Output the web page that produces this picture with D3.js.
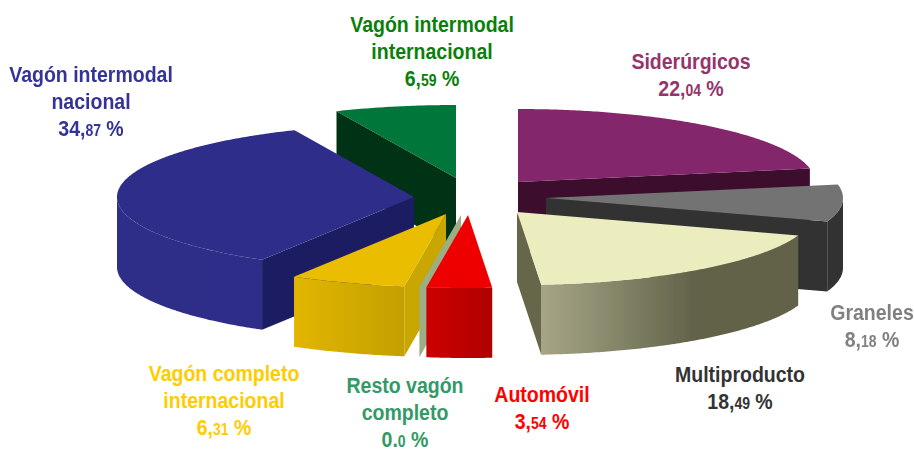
<!DOCTYPE html>
<html>
<head>
<meta charset="utf-8">
<script src="https://cdn.jsdelivr.net/npm/d3@7/dist/d3.min.js"></script>
<style>
html,body{margin:0;padding:0;background:#fff;overflow:hidden}
svg{display:block}
text{font-family:"Liberation Sans",Arial,sans-serif;font-weight:700;text-anchor:middle}
</style>
</head>
<body>
<svg id="chart" width="914" height="449"></svg>
<script>
// ---- data ----
const categories = ["Siderúrgicos","Graneles","Multiproducto","Automóvil","Resto vagón completo","Vagón completo internacional","Vagón intermodal nacional","Vagón intermodal internacional"];
const values = [22.04, 8.18, 18.49, 3.54, 0.0, 6.31, 34.87, 6.59];
const labelLines = [["Siderúrgicos"],["Graneles"],["Multiproducto"],["Automóvil"],["Resto vagón","completo"],["Vagón completo","internacional"],["Vagón intermodal","nacional"],["Vagón intermodal","internacional"]];
const valueWhole = ["22,","8,","18,","3,","0.","6,","34,","6,"];
const valueDecimals = ["04","18","49","54","0","31","87","59"];

// ---- styles ----
const topColors  = ["#84266c","#737373","#ecedbf","#ee0000","#9cae84","#eabd00","#2e2e8a","#00763a"];
const sideColors = ["#3d0c2e","#333333","#66664c","#b80000","#9cae84","#c9a600","#1e1e62","#003015"];
const wallLeft   = ["#84266c","#333333","#a6a686","#cc0000","#9cae84","#e2b600","#2d2d88","#00763a"];
const wallRight  = ["#84266c","#333333","#62624a","#b00000","#9cae84","#c2a000","#2e2e8a","#00763a"];
const textColors = ["#96346c","#808080","#333333","#ff0000","#339966","#ffcc00","#333399","#0a7f0a"];

// ---- layout ----
const cx = 480, cy = 197, rx = 297, ry = 73, depth = 70;
const offsetX = [38, 66, 37, -12, -19, -34, -66, -24];
const offsetY = [-15, 1, 15, 18, 18, 17, 0, -19];
const drawOrder = [7, 0, 1, 6, 2, 5, 4, 3];
const labelX = [691, 872, 740, 542, 405, 224, 91, 432];
const labelY = [69, 320, 382, 402, 393, 381, 82, 32];
const lineGap = 27, bigSize = 22.3, smallSize = 16, textSqueeze = 0.875;

const svg = d3.select("#chart");
const defs = svg.append("defs");
const soft = defs.append("filter").attr("id","soft").attr("x","-5%").attr("y","-5%").attr("width","110%").attr("height","110%");
soft.append("feGaussianBlur").attr("stdDeviation",0.45);

const xScale = d3.scaleLinear().domain([-1,1]).range([-rx,rx]);
const yScale = d3.scaleLinear().domain([-1,1]).range([-ry,ry]);
const rim = a => [xScale(Math.sin(a)), yScale(-Math.cos(a))];
const line = d3.line();
const arcPoints = (a0,a1) => {
  const n = Math.max(1, Math.ceil((a1-a0)/0.01));
  return d3.range(n+1).map(i => rim(a0+(a1-a0)*i/n));
};
const shift = (pts,dy) => pts.map(p => [p[0],p[1]+dy]);

const arcs = d3.pie().sort(null).value(d => d)(values);
const marks = svg.append("g").attr("filter","url(#soft)");

drawOrder.forEach(i => {
  const d = arcs[i];
  const a0 = d.startAngle, a1 = d.endAngle;
  const g = marks.append("g").attr("transform",`translate(${cx+offsetX[i]},${cy+offsetY[i]})`);

  // outer wall (only the part facing the viewer)
  const w0 = Math.max(a0, Math.PI/2), w1 = Math.min(a1, Math.PI*1.5);
  if (w1 > w0) {
    const top = arcPoints(w0,w1);
    const id = "wall"+i;
    const grad = defs.append("linearGradient").attr("id",id);
    grad.append("stop").attr("offset","0%").attr("stop-color", wallLeft[i]);
    if (i === 2) grad.append("stop").attr("offset","60%").attr("stop-color",wallRight[i]);
    grad.append("stop").attr("offset","100%").attr("stop-color", wallRight[i]);
    const pts = top.concat(shift(top,depth).reverse());
    g.append("path").attr("d",line(pts)+"Z").attr("fill",`url(#${id})`);
  }
  // cut faces
  const face = a => { const r = rim(a); return [[0,0],r,[r[0],r[1]+depth],[0,depth]]; };
  if (Math.sin(a0) < 0) g.append("path").attr("d",line(face(a0))+"Z").attr("fill",sideColors[i]);
  if (Math.sin(a1) > 0) g.append("path").attr("d",line(face(a1))+"Z").attr("fill",sideColors[i]);
  // top
  if (a1 > a0) g.append("path").attr("d",line([[0,0]].concat(arcPoints(a0,a1)))+"Z").attr("fill",topColors[i]);
});

// labels
categories.forEach((c,i) => {
  const lab = svg.append("g").attr("transform",`translate(${labelX[i]},${labelY[i]}) scale(${textSqueeze},1)`).attr("fill",textColors[i]).attr("font-size",bigSize);
  labelLines[i].forEach((t,k) => lab.append("text").attr("y",k*lineGap).text(t));
  const v = lab.append("text").attr("y",labelLines[i].length*lineGap);
  v.append("tspan").text(valueWhole[i]);
  v.append("tspan").attr("font-size",smallSize).text(valueDecimals[i]);
  v.append("tspan").text("\u00a0%");
});
</script>
</body>
</html>
